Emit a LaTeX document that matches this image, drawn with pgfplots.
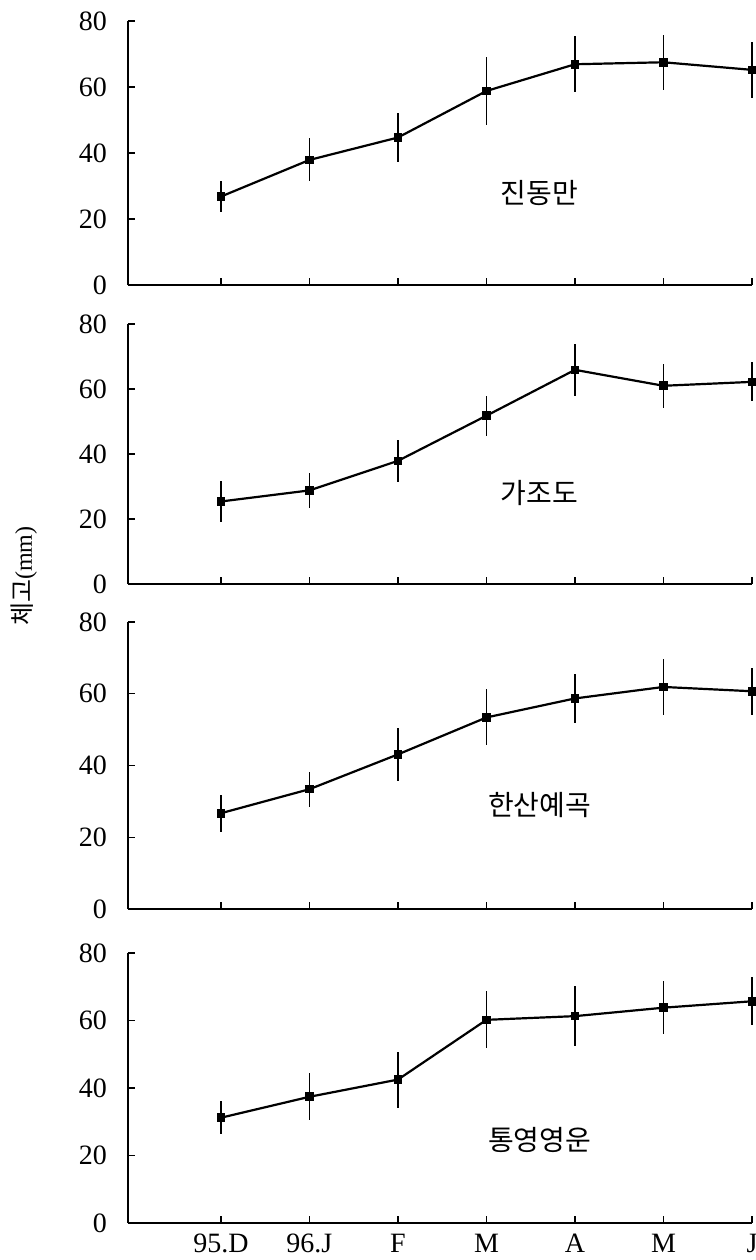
\documentclass[border=0pt]{standalone}
\usepackage{pgfplots}
\pgfplotsset{compat=1.18}
\usepackage{pgfplotstable}
\usepackage{fontspec}
\setmainfont{Liberation Serif}
\newfontfamily\kr{Noto Sans CJK KR}

\pgfplotstableread{
x y e
0 26.8 4.7
1 37.9 6.5
2 44.7 7.5
3 58.8 10.3
4 66.9 8.5
5 67.5 8.3
6 65.2 8.4
}\dataA
\pgfplotstableread{
x y e
0 25.4 6.3
1 28.8 5.5
2 37.9 6.5
3 51.8 6.2
4 65.9 7.9
5 61.0 6.8
6 62.2 6.0
}\dataB
\pgfplotstableread{
x y e
0 26.7 5.1
1 33.4 4.9
2 43.1 7.3
3 53.4 7.8
4 58.7 6.8
5 61.9 7.8
6 60.7 6.5
}\dataC
\pgfplotstableread{
x y e
0 31.2 4.9
1 37.4 7.0
2 42.5 8.3
3 60.2 8.4
4 61.3 8.9
5 63.8 7.9
6 65.7 7.1
}\dataD

\pgfplotsset{
  panel/.style={
    scale only axis, width=312pt,
    xmin=-1.05, xmax=6, ymin=0, ymax=80,
    axis x line*=bottom, axis y line*=left,
    axis line style={-, line width=0.8pt},
    tick align=inside, major tick length=3.5pt,
    tick style={line width=0.7pt, black},
    xtick={0,...,6}, ytick={0,20,40,60,80},
    xticklabels={},
    /pgf/number format/assume math mode=true,
    ticklabel style={font=\fontsize{14}{16}\selectfont},
    yticklabel style={xshift=-7pt},
    clip=false,
  },
  ser/.style={black, line width=1.1pt, mark=square*, mark size=1.6pt,
    mark options={solid, fill=black},
    error bars/.cd, y dir=both, y explicit, error mark=none,
    error bar style={line width=0.6pt, black}},
}

\begin{document}
\begin{tikzpicture}
\useasboundingbox (-64pt,-630pt) rectangle (314pt,0pt);

\begin{axis}[panel, height=132pt, at={(0pt,-142.5pt)}, anchor=south west]
\addplot[ser] table[x=x, y=y, y error=e] {\dataA};
\node[font=\kr\fontsize{14}{16}\selectfont] at (axis cs:3.6,27.9) {진동만};
\end{axis}

\begin{axis}[panel, height=130pt, at={(0pt,-292pt)}, anchor=south west]
\addplot[ser] table[x=x, y=y, y error=e] {\dataB};
\node[font=\kr\fontsize{14}{16}\selectfont] at (axis cs:3.6,28) {가조도};
\end{axis}

\begin{axis}[panel, height=143.5pt, at={(0pt,-454.5pt)}, anchor=south west]
\addplot[ser] table[x=x, y=y, y error=e] {\dataC};
\node[font=\kr\fontsize{14}{16}\selectfont] at (axis cs:3.6,29) {한산예곡};
\end{axis}

\begin{axis}[panel, height=135pt, at={(0pt,-611.5pt)}, anchor=south west,
  xticklabels={95.D,96.J,F,M,A,M,J},
  xticklabel style={yshift=-2pt}]
\addplot[ser] table[x=x, y=y, y error=e] {\dataD};
\node[font=\kr\fontsize{14}{16}\selectfont] at (axis cs:3.6,24.6) {통영영운};
\end{axis}

\node[rotate=90] at (-52pt,-288pt) {{\kr\fontsize{12.5}{14}\selectfont 체고}{\fontsize{12}{14}\selectfont (mm)}};
\end{tikzpicture}
\end{document}
